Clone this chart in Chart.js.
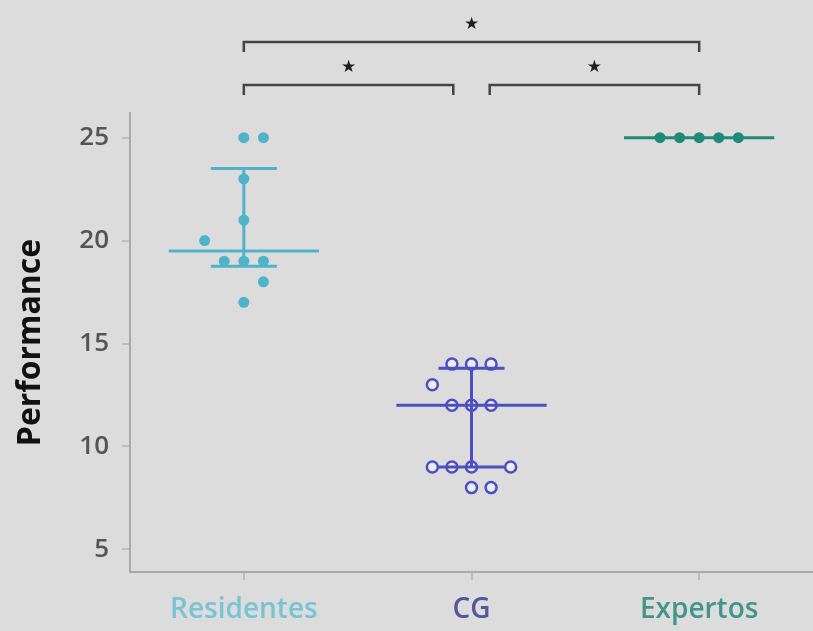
<!DOCTYPE html>
<html>
<head>
<meta charset="utf-8">
<script src="https://cdn.jsdelivr.net/npm/chart.js@4.4.1/dist/chart.umd.min.js"></script>
<style>
  html, body { margin: 0; padding: 0; background: #dcdcdc; }
  #wrap { width: 813px; height: 631px; }
</style>
</head>
<body>
<div id="wrap"><canvas id="grafico" width="813" height="631"></canvas></div>
<script>
// --- dados ---
const grupos = ["Residentes", "CG", "Expertos"];
const yTicks = [5, 10, 15, 20, 25];

// valores + coluna do "beeswarm" (em nº de pontos a partir do centro)
const residentesValores = [25, 25, 23, 21, 20, 19, 19, 19, 18, 17];
const residentesColuna = [0, 1, 0, 0, -2, -1, 0, 1, 1, 0];
const cgValores = [14, 14, 14, 13, 12, 12, 12, 9, 9, 9, 9, 8, 8];
const cgColuna = [-1, 0, 1, -2, -1, 0, 1, -2, -1, 0, 2, 0, 1];
const expertosValores = [25, 25, 25, 25, 25];
const expertosColuna = [-2, -1, 0, 1, 2];

// mediana e intervalo interquartil
const medianas = [19.5, 12, 25];
const q1 = [18.75, 9, 25];
const q3 = [23.5, 13.8, 25];

// comparações significativas
const compDe = [1, 2, 1];
const compAte = [2, 3, 3];
const compTexto = ["★", "★", "★"];

// --- estilo ---
const cores = ["#4fb3c9", "#4b4fc0", "#1f8a78"];
const coresTexto = ["#78c4d4", "#55579c", "#43958a"];
const SLOT = 0.086; // largura de um ponto em unidades do eixo x
const fonte = "'Open Sans', 'Noto Sans', sans-serif";

function pontos(valores, colunas, grupo) {
  return valores.map((v, i) => ({ x: grupo + colunas[i] * SLOT, y: v }));
}

const fundoPlugin = {
  id: "fundo",
  beforeDraw(chart) {
    const { ctx, width, height } = chart;
    ctx.save();
    ctx.fillStyle = "#dcdcdc";
    ctx.fillRect(0, 0, width, height);
    ctx.restore();
  },
};

// linhas de mediana + IQR
const resumoPlugin = {
  id: "resumo",
  afterDatasetsDraw(chart) {
    const { ctx, scales: { x, y } } = chart;
    ctx.save();
    ctx.lineWidth = 3;
    medianas.forEach((m, i) => {
      const g = i + 1;
      ctx.strokeStyle = cores[i];
      const yM = y.getPixelForValue(m);
      ctx.beginPath();
      ctx.moveTo(x.getPixelForValue(g - 0.33), yM);
      ctx.lineTo(x.getPixelForValue(g + 0.33), yM);
      ctx.stroke();
      if (q3[i] > q1[i]) {
        const cx = x.getPixelForValue(g);
        const yA = y.getPixelForValue(q3[i]);
        const yB = y.getPixelForValue(q1[i]);
        ctx.beginPath();
        ctx.moveTo(cx, yA);
        ctx.lineTo(cx, yB);
        [yA, yB].forEach((yy) => {
          ctx.moveTo(x.getPixelForValue(g - 0.145), yy);
          ctx.lineTo(x.getPixelForValue(g + 0.145), yy);
        });
        ctx.stroke();
      }
    });
    ctx.restore();
  },
};

// chavetas com asteriscos por cima do gráfico
const chavesPlugin = {
  id: "chaves",
  afterDraw(chart) {
    const { ctx, chartArea, scales: { x } } = chart;
    const ultimo = grupos.length;
    ctx.save();
    ctx.strokeStyle = "#444";
    ctx.lineWidth = 2.5;
    ctx.fillStyle = "#1e1e1e";
    ctx.font = "17px 'DejaVu Sans'";
    ctx.textAlign = "center";
    ctx.textBaseline = "middle";
    compDe.forEach((de, i) => {
      const ate = compAte[i];
      const nivel = ate - de - 1;
      const yL = chartArea.top - 28 - nivel * 43;
      const x1 = x.getPixelForValue(de + (de > 1 ? 0.08 : 0));
      const x2 = x.getPixelForValue(ate - (ate < ultimo ? 0.08 : 0));
      ctx.beginPath();
      ctx.moveTo(x1, yL + 10);
      ctx.lineTo(x1, yL);
      ctx.lineTo(x2, yL);
      ctx.lineTo(x2, yL + 10);
      ctx.stroke();
      ctx.fillText(compTexto[i], (x1 + x2) / 2, yL - 17);
    });
    ctx.restore();
  },
};

const ctx = document.getElementById("grafico").getContext("2d");
new Chart(ctx, {
  type: "scatter",
  data: {
    datasets: [
      {
        label: grupos[0],
        data: pontos(residentesValores, residentesColuna, 1),
        pointRadius: 5.5,
        pointBorderWidth: 0,
        pointBackgroundColor: cores[0],
        clip: false,
      },
      {
        label: grupos[1],
        data: pontos(cgValores, cgColuna, 2),
        pointRadius: 5.5,
        pointBorderWidth: 2.5,
        pointBorderColor: cores[1],
        pointBackgroundColor: "#ececf6",
        clip: false,
      },
      {
        label: grupos[2],
        data: pontos(expertosValores, expertosColuna, 3),
        pointRadius: 5.5,
        pointBorderWidth: 0,
        pointBackgroundColor: cores[2],
        clip: false,
      },
    ],
  },
  options: {
    responsive: false,
    animation: false,
    layout: { autoPadding: false, padding: { top: 113, left: 0, right: 0, bottom: 0 } },
    plugins: { legend: { display: false }, tooltip: { enabled: false } },
    scales: {
      x: {
        type: "linear",
        min: 0.5,
        max: 3.5,
        afterBuildTicks: (s) => {
          s.ticks = grupos.map((_, i) => ({ value: i + 1 }));
        },
        afterFit: (s) => {
          s.height = 59;
        },
        grid: {
          drawOnChartArea: false,
          drawTicks: true,
          tickLength: 8,
          color: "#bdbdbd",
          lineWidth: 2,
        },
        border: { display: true, color: "#a9a9a9", width: 2 },
        ticks: {
          autoSkip: false,
          maxRotation: 0,
          padding: 13,
          color: (c) => coresTexto[c.index],
          font: { family: fonte, size: 28, weight: "600" },
          callback: (v, i) => grupos[i],
        },
      },
      y: {
        min: 3.9,
        max: 26.2,
        afterBuildTicks: (s) => {
          s.ticks = yTicks.map((v) => ({ value: v }));
        },
        afterFit: (s) => {
          s.width = 130;
        },
        grid: {
          drawOnChartArea: false,
          drawTicks: true,
          tickLength: 8,
          color: "#bdbdbd",
          lineWidth: 2,
        },
        border: { display: true, color: "#a9a9a9", width: 2 },
        ticks: {
          padding: 13,
          color: "#555",
          font: { family: fonte, size: 26, weight: "600" },
        },
        title: {
          display: true,
          text: "Performance",
          color: "#111",
          font: { family: fonte, size: 32, weight: "bold" },
          padding: { top: 12, bottom: 0 },
        },
      },
    },
  },
  plugins: [fundoPlugin, resumoPlugin, chavesPlugin],
});
</script>
</body>
</html>
